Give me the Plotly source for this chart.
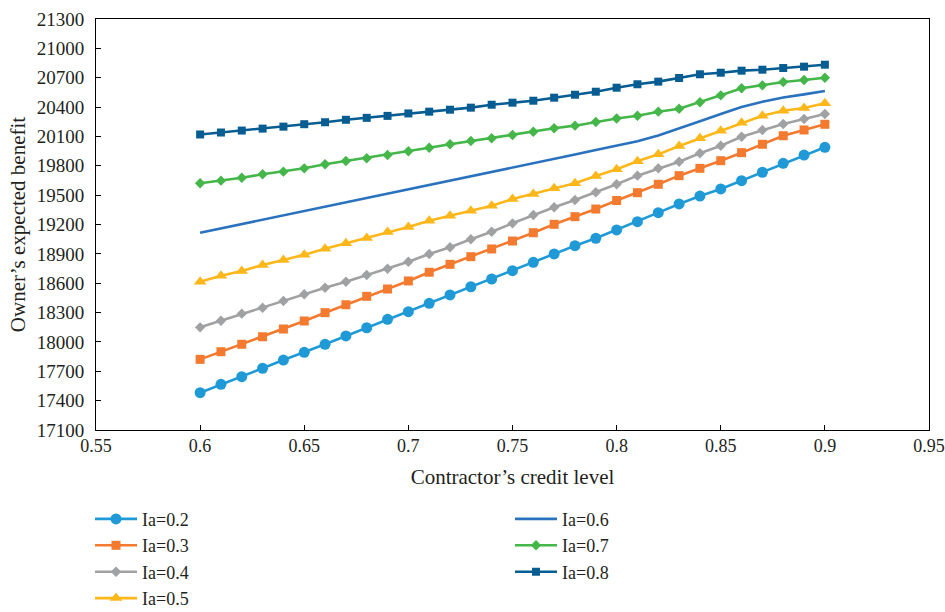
import plotly.graph_objects as go

credit = [round(0.60 + 0.01 * i, 2) for i in range(31)]

ia_02 = [17481, 17567, 17645, 17731, 17815, 17894, 17976, 18061, 18145, 18231, 18309,
         18395, 18480, 18564, 18643, 18728, 18814, 18899, 18983, 19059, 19144,
         19229, 19321, 19410, 19491, 19563, 19648, 19734, 19825, 19910, 19989]
ia_03 = [17822, 17900, 17976, 18053, 18132, 18214, 18299, 18380, 18466, 18541, 18623,
         18712, 18793, 18871, 18950, 19031, 19116, 19202, 19280, 19358, 19445,
         19525, 19611, 19699, 19774, 19852, 19934, 20020, 20107, 20166, 20224]
ia_04 = [18149, 18217, 18289, 18350, 18418, 18487, 18554, 18615, 18684, 18748, 18820,
         18899, 18967, 19049, 19126, 19212, 19297, 19376, 19450, 19529, 19612,
         19699, 19774, 19842, 19928, 20005, 20097, 20166, 20227, 20278, 20329]
ia_05 = [18615, 18677, 18725, 18786, 18837, 18891, 18953, 19008, 19062, 19123, 19175,
         19239, 19290, 19341, 19392, 19461, 19512, 19570, 19621, 19696, 19765,
         19846, 19917, 20002, 20081, 20159, 20240, 20312, 20363, 20391, 20440]
ia_06 = [19116, 19160, 19205, 19248, 19292, 19337, 19380, 19425, 19470, 19515, 19560,
         19602, 19645, 19690, 19735, 19780, 19825, 19870, 19915, 19962, 20005,
         20050, 20110, 20180, 20255, 20330, 20400, 20455, 20497, 20530, 20565]
ia_07 = [19621, 19648, 19678, 19713, 19740, 19774, 19815, 19849, 19877, 19910, 19948,
         19985, 20020, 20053, 20081, 20115, 20148, 20183, 20210, 20247, 20283,
         20312, 20353, 20383, 20449, 20520, 20592, 20622, 20656, 20677, 20700]
ia_08 = [20120, 20140, 20160, 20180, 20200, 20225, 20245, 20270, 20290, 20310, 20335,
         20353, 20373, 20394, 20424, 20445, 20465, 20496, 20526, 20557, 20598,
         20633, 20660, 20697, 20735, 20751, 20772, 20782, 20799, 20813, 20833]

names = ["Ia=0.2", "Ia=0.3", "Ia=0.4", "Ia=0.5", "Ia=0.6", "Ia=0.7", "Ia=0.8"]
series = [ia_02, ia_03, ia_04, ia_05, ia_06, ia_07, ia_08]
colors = ["#1f9ad6", "#f37a2f", "#a0a1a3", "#fdb71a", "#2a72bd", "#45b649", "#075d92"]
symbols = ["circle", "square", "diamond", "triangle-up", None, "diamond", "square"]
sizes = [11, 9, 8, 11, 0, 8, 8]

x_ticks = [0.55, 0.6, 0.65, 0.7, 0.75, 0.8, 0.85, 0.9, 0.95]
x_ticktext = ["0.55", "0.6", "0.65", "0.7", "0.75", "0.8", "0.85", "0.9", "0.95"]
y_ticks = list(range(17100, 21301, 300))
y_ticktext = [str(v) for v in y_ticks]

FONT = "Liberation Serif"
TXT = "#231f20"

fig = go.Figure()
for i, (nm, ys, c, sym, sz) in enumerate(zip(names, series, colors, symbols, sizes)):
    leg = "legend" if i < 4 else "legend2"
    if sym is None:
        fig.add_trace(go.Scatter(x=credit, y=ys, name=nm, mode="lines",
                                 line=dict(color=c, width=2.6), legend=leg,
                                 legendgroup=nm))
    else:
        fig.add_trace(go.Scatter(x=credit, y=ys, name=nm, mode="lines+markers",
                                 line=dict(color=c, width=2.6),
                                 marker=dict(symbol=sym, size=sz, color=c,
                                             line=dict(width=0)),
                                 legend=leg, legendgroup=nm))

axis_common = dict(showline=True, linecolor="black", linewidth=1, mirror=True,
                   ticks="inside", ticklen=5, tickcolor="black", showgrid=False,
                   zeroline=False, automargin=False)

fig.update_layout(
    width=945, height=612,
    margin=dict(l=96, r=16, t=19, b=182, autoexpand=False),
    paper_bgcolor="white", plot_bgcolor="white",
    font=dict(family=FONT, size=19, color=TXT),
    xaxis=dict(range=[0.55, 0.95], tickvals=x_ticks, ticktext=x_ticktext,
               ticklabelstandoff=-1,
               tickfont=dict(family=FONT, size=18, color=TXT),
               title=dict(text="Contractor’s credit level", font=dict(size=21), standoff=14),
               **axis_common),
    yaxis=dict(range=[17100, 21300], tickvals=y_ticks, ticktext=y_ticktext,
               ticklabelstandoff=7,
               tickfont=dict(family=FONT, size=19, color=TXT),
               title=dict(text="Owner’s expected benefit", font=dict(size=21), standoff=5),
               **axis_common),
    legend=dict(x=-0.0072, y=-0.172, xanchor="left", yanchor="top",
                font=dict(family=FONT, size=18, color=TXT), tracegroupgap=0,
                itemwidth=42, bgcolor="rgba(0,0,0,0)"),
    legend2=dict(x=0.497, y=-0.172, xanchor="left", yanchor="top",
                 font=dict(family=FONT, size=18, color=TXT), tracegroupgap=0,
                 itemwidth=42, bgcolor="rgba(0,0,0,0)"),
    showlegend=True,
)

fig.write_html("out.html",
               config={"displayModeBar": False},
               post_script="document.body.style.margin='0';document.body.style.overflow='hidden';")
